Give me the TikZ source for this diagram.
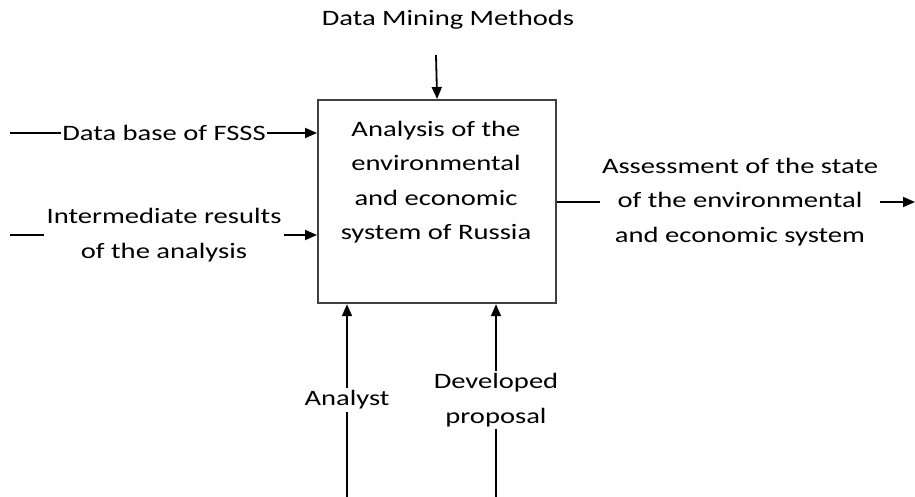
\documentclass[tikz,border=0pt]{standalone}
\usepackage{fontspec}
\setmainfont{Carlito}[FakeStretch=1.3]
\usetikzlibrary{arrows.meta,positioning}
\tikzset{
  flow/.style={line width=1.8pt,-{Triangle[length=12pt,width=10pt]}},
  plain/.style={line width=1.8pt},
  lbl/.style={font=\fontsize{22}{34.5}\selectfont, fill=white, inner sep=2pt, align=center},
  procbox/.style={draw=black!75, line width=2.2pt, inner sep=0pt},
}

\begin{document}
\begin{tikzpicture}[x=1pt,y=-1pt]
\useasboundingbox (0,0) rectangle (915,497);
% activity box
\node[procbox, minimum width=238pt, minimum height=203pt, anchor=north west] (proc) at (317,99) {};
\node[lbl, fill=none] (proclabel) at (436,182) {Analysis of the\\environmental\\and economic\\system of Russia};

% control
\node[lbl] (mining) at (448,20) {Data Mining Methods};
\coordinate (miningend) at (436,55);
\draw[flow] (miningend) -- (proc.north);

% inputs
\node[lbl, inner sep=1pt] (fsss) at (164,133) {Data base of FSSS};
\coordinate (fsssstart) at (10,133);
\draw[plain] (fsssstart) -- (fsss.west);
\draw[flow] (fsss.east) -- (fsss.east -| proc.west);

\node[lbl] (interim) at (164,235) {Intermediate results\\of the analysis};
\coordinate (interimstart) at (10,235);
\draw[plain] (interimstart) -- (interim.west);
\draw[flow] (interim.east) -- (interim.east -| proc.west);

% output
\node[lbl] (assess) at (740,202) {Assessment of the state\\of the environmental\\and economic system};
\coordinate (assessend) at (915,202);
\draw[plain] (proc.east |- assess) -- (assess.west);
\draw[flow] (assess.east) -- (assessend);

% mechanisms
\node[lbl] (analyst) at (347,400) {Analyst};
\coordinate (analystbase) at (347,497);
\draw[plain] (analystbase) -- (analyst.south);
\draw[flow] (analyst.north) -- (analyst.north |- proc.south);

\node[lbl] (proposal) at (496,400) {Developed\\proposal};
\coordinate (proposalbase) at (496,497);
\draw[plain] (proposalbase) -- (proposal.south);
\draw[flow] (proposal.north) -- (proposal.north |- proc.south);
\end{tikzpicture}
\end{document}
